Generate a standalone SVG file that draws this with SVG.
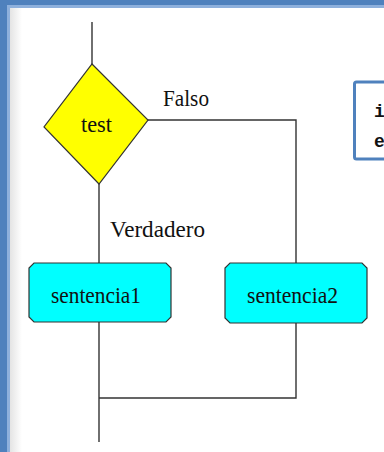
<svg xmlns="http://www.w3.org/2000/svg" width="384" height="452" viewBox="0 0 384 452">
<defs>
<style>
.ln{fill:none;stroke:#333;stroke-width:1.4}
.box{fill:#00ffff;stroke:#333;stroke-width:1.2}
.lbl{font-family:"Liberation Serif","Times New Roman",serif;font-size:23px;fill:#111}
.code{font-family:"Liberation Mono","Courier New",monospace;font-size:18px;font-weight:bold;fill:#111}
</style>
<linearGradient id="sh" x1="0" y1="0" x2="1" y2="0">
<stop offset="0" stop-color="#e4e4e4"/>
<stop offset="1" stop-color="#ffffff"/>
</linearGradient>
</defs>
<rect x="0" y="0" width="384" height="452" fill="#ffffff"/>
<rect x="10" y="8" width="12" height="444" fill="url(#sh)"/>
<rect x="0" y="0" width="384" height="5" fill="#4f81bd"/>
<rect x="7" y="5" width="377" height="3" fill="#8eb0dc"/>
<rect x="0" y="0" width="7" height="452" fill="#4f81bd"/>
<rect x="7" y="5" width="3" height="447" fill="#8eb0dc"/>
<g id="connectors">
<line class="ln" x1="92" y1="22" x2="92" y2="64"/>
<polyline class="ln" points="148,120 296,120 296,263"/>
<line class="ln" x1="99" y1="184" x2="99" y2="263"/>
<line class="ln" x1="99" y1="322" x2="99" y2="442"/>
<polyline class="ln" points="296,323 296,398 99,398"/>
</g>
<g id="test">
<polygon points="92,64 148,120 99,184 44,127" fill="#ffff00" stroke="#333" stroke-width="1.2"/>
<text class="lbl" x="81" y="132" textLength="31" lengthAdjust="spacingAndGlyphs">test</text>
</g>
<g id="falso-label"><text class="lbl" x="163" y="106" textLength="46" lengthAdjust="spacingAndGlyphs">Falso</text></g>
<g id="verdadero-label"><text class="lbl" x="110" y="237" textLength="95" lengthAdjust="spacingAndGlyphs">Verdadero</text></g>
<g id="sentencia1">
<path class="box" d="M34,263 H166 L171,268 V317 L166,322 H34 L29,317 V268 Z"/>
<text class="lbl" x="51" y="303" textLength="90" lengthAdjust="spacingAndGlyphs">sentencia1</text>
</g>
<g id="sentencia2">
<path class="box" d="M230,263 H362 L367,268 V318 L362,323 H230 L225,318 V268 Z"/>
<text class="lbl" x="247" y="303" textLength="91" lengthAdjust="spacingAndGlyphs">sentencia2</text>
</g>
<g id="code">
<rect x="354.5" y="82" width="40" height="77" fill="#ffffff" stroke="#4f81bd" stroke-width="3" rx="2"/>
<text class="code" x="374" y="117">i</text>
<text class="code" x="374" y="147">e</text>
</g>
</svg>
